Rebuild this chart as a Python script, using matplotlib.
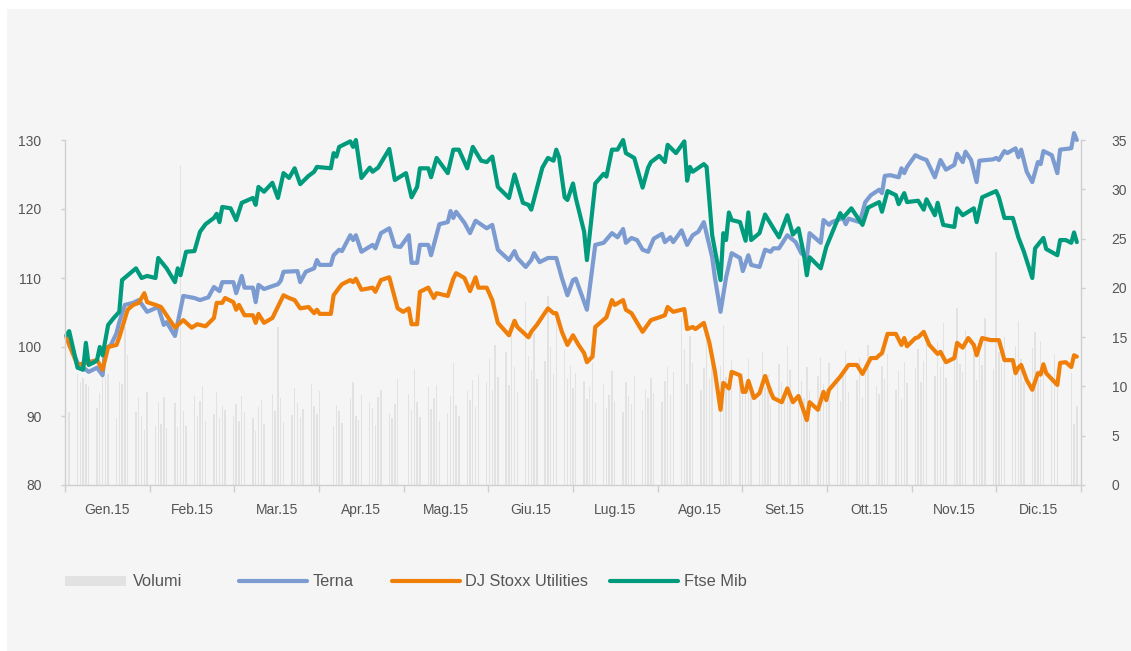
import numpy as np
import pandas as pd
import matplotlib
matplotlib.use("Agg")
import matplotlib.pyplot as plt
from matplotlib.lines import Line2D
from matplotlib.patches import Rectangle

plt.rcParams["font.family"] = ["Liberation Sans", "DejaVu Sans"]

# --- data (x = day of year 2015, 0 = 1 Jan) ---------------------------------
mesi = ["Gen.15", "Feb.15", "Mar.15", "Apr.15", "Mag.15", "Giu.15",
        "Lug.15", "Ago.15", "Set.15", "Ott.15", "Nov.15", "Dic.15"]

terna_days = [0, 4, 8, 11, 13, 14, 16, 18, 19, 21, 24, 26, 29, 33, 35, 36, 39, 42,
              46, 48, 51, 53, 55, 56, 60, 61, 63, 64, 67, 68, 69, 71, 76, 77, 78,
              83, 84, 86, 89, 90, 91, 95, 96, 98, 99, 102, 103, 104, 106, 110, 111,
              113, 116, 118, 120, 123, 124, 126, 127, 130, 131, 134, 137, 138, 139,
              140, 143, 145, 147, 151, 153, 155, 159, 161, 162, 165, 167, 168, 170,
              173, 176, 178, 180, 182, 183, 187, 190, 193, 196, 198, 200, 201, 203,
              205, 207, 209, 211, 214, 215, 217, 218, 221, 223, 225, 227, 229, 232,
              233, 235, 237, 239, 242, 243, 245, 246, 249, 251, 253, 254, 256, 259,
              262, 264, 266, 267, 271, 272, 274, 275, 279, 280, 281, 285, 287, 289,
              292, 293, 294, 296, 299, 300, 301, 302, 305, 307, 309, 312, 314, 316,
              319, 320, 322, 323, 325, 327, 328, 333, 334, 335, 337, 338, 341, 342,
              343, 345, 347, 349, 350, 351, 354, 356, 357, 359, 361, 362, 363]
terna_vals = [101.6, 97.7, 96.4, 97.0, 95.9, 99.7, 100.3, 102.0, 103.6, 106.1, 106.4,
              106.8, 105.1, 105.8, 103.2, 103.6, 101.6, 107.4, 107.1, 106.8, 107.2,
              108.7, 108.1, 109.4, 109.4, 107.8, 110.3, 108.6, 108.6, 106.5, 109.0,
              108.4, 109.1, 109.6, 110.9, 111.0, 109.4, 110.9, 111.4, 112.6, 111.9,
              111.9, 113.3, 114.1, 113.9, 116.2, 115.5, 116.2, 113.8, 114.8, 114.3,
              116.5, 117.2, 114.6, 114.5, 116.2, 112.2, 112.2, 114.8, 114.8, 113.3,
              117.8, 118.1, 119.7, 118.7, 119.6, 118.0, 116.5, 118.3, 117.2, 117.7,
              114.1, 112.6, 113.9, 112.9, 111.6, 112.6, 113.6, 112.3, 112.9, 112.9,
              110.0, 107.5, 109.7, 109.9, 105.4, 114.8, 115.1, 116.5, 115.9, 117.1,
              115.1, 115.8, 115.5, 114.1, 113.8, 115.7, 116.4, 115.2, 115.9, 115.2,
              116.9, 114.8, 116.2, 116.7, 118.1, 113.0, 110.0, 105.1, 110.1, 113.6,
              112.9, 111.0, 113.3, 111.9, 111.6, 114.1, 113.8, 114.3, 114.3, 116.2,
              115.2, 113.6, 112.9, 116.5, 115.1, 118.4, 117.7, 118.1, 118.7, 117.8,
              118.6, 118.1, 121.0, 122.0, 122.8, 122.3, 124.8, 124.9, 124.6, 125.9,
              125.2, 126.1, 127.8, 127.4, 127.1, 124.6, 127.1, 125.7, 126.4, 128.0,
              126.8, 128.3, 127.1, 123.9, 127.0, 127.2, 127.4, 127.1, 128.4, 128.1,
              128.8, 127.5, 128.6, 125.4, 123.9, 126.8, 126.5, 128.4, 127.8, 125.2,
              128.6, 128.7, 128.8, 131.0, 130.0]

stoxx_days = [0, 1, 4, 7, 11, 13, 15, 18, 19, 22, 24, 26, 28, 29, 32, 34, 36, 39, 42,
              45, 47, 50, 53, 54, 56, 57, 60, 61, 62, 64, 67, 68, 69, 71, 74, 78, 80,
              82, 84, 87, 89, 90, 91, 95, 96, 98, 99, 102, 103, 104, 106, 110, 111,
              113, 116, 117, 119, 121, 123, 124, 126, 127, 130, 132, 133, 137, 139,
              140, 143, 145, 147, 148, 151, 153, 155, 159, 161, 162, 166, 167, 169,
              173, 175, 176, 178, 180, 182, 184, 186, 187, 189, 190, 194, 196, 197,
              200, 201, 203, 207, 210, 213, 215, 216, 218, 222, 223, 225, 226, 229,
              231, 233, 235, 236, 238, 239, 242, 243, 244, 245, 247, 249, 251, 253,
              254, 257, 259, 261, 263, 265, 266, 267, 270, 272, 273, 274, 278, 281,
              284, 286, 289, 291, 292, 293, 295, 298, 300, 301, 302, 305, 306, 308,
              310, 313, 314, 316, 319, 320, 322, 324, 326, 327, 329, 332, 334, 335,
              337, 340, 341, 342, 343, 345, 347, 349, 350, 351, 352, 356, 357, 359,
              361, 362, 363]
stoxx_vals = [101.4, 100.3, 97.4, 97.7, 98.1, 96.7, 100.0, 100.3, 101.4, 105.4, 106.1,
              106.4, 107.8, 106.5, 106.1, 105.8, 104.6, 102.8, 103.9, 102.8, 103.3,
              103.0, 104.2, 106.4, 106.4, 107.1, 106.5, 105.4, 106.1, 104.6, 104.6,
              103.5, 104.8, 103.5, 104.2, 107.5, 107.1, 106.8, 105.6, 105.8, 104.9,
              105.4, 104.8, 104.8, 107.5, 108.6, 109.1, 109.7, 109.4, 109.9, 108.3,
              108.6, 108.0, 109.7, 110.1, 108.6, 105.6, 105.1, 105.6, 103.3, 103.3,
              108.0, 108.6, 107.1, 107.8, 107.4, 109.9, 110.7, 110.0, 108.1, 110.1,
              108.6, 108.6, 106.8, 103.5, 101.7, 103.8, 102.9, 101.4, 102.2, 103.2,
              105.6, 104.9, 104.9, 102.2, 100.3, 101.7, 100.3, 99.1, 97.8, 98.6,
              102.9, 104.3, 106.8, 106.1, 106.8, 105.4, 104.9, 102.2, 103.9, 104.3,
              104.6, 105.8, 105.1, 105.5, 102.6, 102.9, 102.6, 103.5, 100.6, 96.4,
              90.9, 94.8, 94.0, 96.4, 95.9, 93.5, 93.5, 95.1, 92.6, 93.3, 95.8, 93.5,
              92.6, 92.0, 94.0, 92.0, 92.9, 90.6, 89.4, 92.0, 90.9, 93.5, 92.3, 93.8,
              95.7, 97.4, 97.4, 96.1, 98.4, 98.4, 98.8, 99.1, 101.9, 101.9, 100.3,
              101.3, 100.1, 101.3, 101.4, 102.2, 100.3, 99.0, 99.3, 97.8, 98.4, 100.6,
              99.9, 101.3, 100.3, 98.8, 101.3, 101.0, 101.0, 101.0, 98.1, 98.1, 96.2,
              97.0, 97.4, 95.2, 93.8, 96.2, 96.0, 97.5, 96.2, 94.5, 97.7, 97.8, 97.1,
              98.8, 98.6]

ftse_days = [0, 1, 4, 6, 7, 8, 10, 11, 12, 13, 15, 17, 19, 20, 25, 27, 29, 32, 33, 36,
             39, 40, 41, 43, 46, 48, 50, 53, 54, 55, 56, 59, 61, 63, 67, 68, 69, 71,
             74, 76, 78, 80, 82, 84, 87, 89, 90, 95, 96, 97, 98, 102, 103, 104, 106,
             109, 110, 112, 116, 118, 122, 124, 126, 127, 130, 131, 133, 137, 139,
             141, 144, 146, 149, 151, 153, 155, 159, 161, 164, 166, 167, 171, 173,
             175, 176, 177, 179, 180, 182, 183, 186, 187, 190, 193, 194, 196, 198,
             200, 201, 204, 207, 209, 210, 213, 215, 216, 219, 222, 223, 224, 225,
             229, 230, 232, 235, 236, 237, 238, 239, 242, 244, 245, 246, 249, 251,
             254, 256, 259, 261, 263, 265, 266, 267, 271, 273, 278, 279, 282, 286,
             288, 292, 293, 295, 298, 299, 301, 302, 306, 308, 309, 312, 313, 315,
             319, 320, 322, 326, 327, 329, 334, 335, 337, 340, 342, 344, 347, 348,
             351, 352, 356, 357, 359, 361, 362, 363]
ftse_vals = [101.7, 102.3, 97.0, 96.7, 100.6, 97.4, 97.8, 98.1, 100.0, 98.8, 103.2,
             104.2, 105.1, 109.7, 111.4, 110.0, 110.3, 110.0, 112.9, 111.4, 109.4,
             111.4, 110.4, 113.8, 113.9, 116.7, 117.8, 118.7, 119.3, 118.1, 120.3,
             120.1, 118.4, 120.9, 121.6, 120.6, 123.2, 122.5, 123.8, 121.6, 125.2,
             124.5, 125.9, 123.6, 124.8, 125.4, 126.1, 125.9, 128.1, 127.6, 129.0,
             129.8, 129.0, 130.0, 124.5, 126.0, 125.4, 126.0, 128.7, 124.2, 125.2,
             121.7, 123.2, 125.9, 125.9, 124.6, 127.4, 125.2, 128.6, 128.6, 125.9,
             129.0, 127.0, 126.8, 127.6, 123.2, 121.6, 125.0, 120.9, 120.6, 119.9,
             126.0, 127.4, 127.0, 128.6, 127.5, 121.7, 121.3, 123.7, 121.6, 116.7,
             112.6, 123.7, 125.1, 124.7, 128.6, 128.6, 130.0, 128.1, 127.4, 123.1,
             126.0, 126.8, 127.7, 126.8, 129.3, 128.1, 129.8, 124.1, 126.1, 125.4,
             126.5, 126.1, 116.2, 109.7, 116.5, 115.5, 119.5, 118.4, 118.1, 115.4,
             119.5, 115.5, 116.5, 119.2, 117.2, 115.9, 119.1, 116.3, 117.2, 113.3,
             110.4, 113.0, 111.4, 114.5, 119.4, 118.7, 120.1, 117.7, 120.2, 121.0,
             119.6, 122.6, 122.0, 120.7, 122.3, 121.0, 121.2, 119.9, 121.4, 119.1,
             120.9, 117.7, 117.4, 120.1, 119.1, 120.1, 118.1, 121.7, 122.6, 121.7,
             118.7, 118.7, 115.9, 113.8, 110.0, 114.3, 115.8, 114.2, 113.3, 115.5,
             115.5, 115.1, 116.6, 115.2]

# daily volumes (millions), one per trading session, month by month
volumi = [
    7.4, 11.3, 10.5, 10.9, 10.2, 10.0, 7.8, 9.3, 10.9, 11.0, 11.3, 6.8, 10.5, 10.2,
    16.0, 13.2, 7.4, 8.9, 7.0, 5.6, 9.4,
    6.0, 8.4, 6.2, 8.9, 5.8, 8.3, 5.9, 32.5, 7.5, 6.0, 9.0, 7.0, 8.5, 10.0, 6.5, 7.2,
    9.4, 6.8, 8.0, 7.6,
    7.0, 8.2, 6.5, 9.0, 7.4, 6.8, 5.5, 7.9, 8.6, 6.2, 9.2, 7.5, 16.0, 8.8, 6.4, 7.1,
    9.8, 8.3, 6.9, 7.7, 10.2, 8.0,
    7.2, 9.5, 6.0, 8.1, 7.5, 6.3, 8.8, 10.5, 7.0, 6.6, 9.1, 8.4, 7.8, 6.1, 8.9, 9.6,
    7.3, 6.8, 8.2, 10.8,
    9.2, 7.6, 11.8, 8.4, 6.9, 9.9, 7.7, 8.8, 10.1, 6.5, 7.3, 9.0, 12.4, 8.1, 7.0, 9.5,
    8.6, 10.7, 7.9, 11.2,
    10.5, 12.8, 9.6, 14.2, 11.0, 13.5, 10.1, 16.3, 12.0, 9.4, 18.6, 13.1, 11.7, 15.4,
    10.8, 12.6, 19.2, 14.0, 11.3, 16.8, 13.7, 10.9,
    12.2, 9.8, 11.4, 10.6, 8.7, 9.9, 12.5, 8.3, 10.2, 7.8, 9.1, 11.6, 8.5, 7.4, 10.4,
    9.0, 8.2, 11.1, 7.6, 9.7, 8.8, 10.9, 9.3,
    8.4, 10.6, 12.0, 9.1, 11.5, 17.0, 13.8, 10.2, 15.1, 12.4, 9.6, 11.9, 14.6, 10.8,
    13.2, 12.1, 16.2, 11.0, 9.8, 12.7, 10.5,
    11.4, 9.2, 12.8, 10.1, 8.6, 13.5, 9.9, 11.2, 8.1, 12.3, 10.4, 9.0, 14.1, 11.7,
    23.0, 10.6, 8.8, 12.0, 9.5, 11.1, 13.0, 10.2,
    9.7, 12.4, 10.9, 8.5, 11.8, 13.6, 9.4, 10.7, 12.9, 8.9, 11.3, 14.2, 10.0, 9.2,
    12.1, 10.8, 13.3, 9.6, 11.6, 8.7, 12.5, 10.3,
    11.9, 13.8, 10.4, 12.6, 15.2, 11.1, 14.5, 12.0, 16.4, 10.9, 13.1, 18.0, 12.3,
    11.5, 15.7, 13.4, 10.7, 14.8, 12.2, 16.9, 11.8,
    23.6, 13.5, 12.4, 15.0, 11.2, 14.1, 16.6, 12.8, 10.5, 13.9, 15.5, 11.7, 14.6,
    12.1, 10.8, 13.3, 9.9, 11.4, 6.2, 8.0,
]
festivi = ["2015-01-01", "2015-04-03", "2015-04-06", "2015-05-01",
           "2015-12-24", "2015-12-25", "2015-12-31"]

# --- figure -----------------------------------------------------------------
W, H = 1131, 651
fig = plt.figure(figsize=(W / 100, H / 100), dpi=100)
fig.patch.set_facecolor("white")
fig.add_artist(Rectangle((7 / W, 0), 1, 1 - 9 / H, transform=fig.transFigure,
                         facecolor="#f5f5f5", edgecolor="none", zorder=0))

GRID = "#cfcfcf"
TXT = "#555555"
C_TERNA = "#7b9bd1"
C_STOXX = "#f07f09"
C_FTSE = "#009b7d"

ax_vol = fig.add_axes([65 / W, 1 - 485 / H, 1016 / W, 345 / H])
ax_vol.set_facecolor("none")
ax = ax_vol.twinx()

sessioni = pd.bdate_range("2015-01-01", "2015-12-31")
sessioni = sessioni[~sessioni.isin(pd.to_datetime(festivi))]
vol_x = np.array(sessioni.dayofyear - 1) + 0.5
n = min(len(vol_x), len(volumi))
ax_vol.bar(vol_x[:n], volumi[:n], width=0.5, color="#e2e2e2", linewidth=0)

lw = 3.0
for xs, ys, col in ((terna_days, terna_vals, C_TERNA),
                    (stoxx_days, stoxx_vals, C_STOXX),
                    (ftse_days, ftse_vals, C_FTSE)):
    ax.plot(np.array(xs) + 0.5, ys, color=col, lw=lw, clip_on=False,
            solid_joinstyle="round", solid_capstyle="round")

for a in (ax, ax_vol):
    a.set_xlim(0, 365)
    for s in a.spines.values():
        s.set_visible(False)

ax.set_ylim(80, 130)
ax_vol.set_ylim(0, 35)

ax.yaxis.tick_left()
ax.yaxis.set_label_position("left")
ax_vol.yaxis.tick_right()
ax.set_yticks(np.arange(80, 131, 10))
ax_vol.set_yticks(np.arange(0, 36, 5))

for s in ("left", "right", "bottom"):
    ax.spines[s].set_visible(True)
    ax.spines[s].set_color(GRID)
    ax.spines[s].set_linewidth(1.0)

ax.tick_params(axis="y", colors=GRID, labelcolor=TXT, labelsize=10,
               length=3, width=1, pad=14)
ax_vol.tick_params(axis="y", colors=GRID, labelcolor=TXT, labelsize=10,
                   length=3, width=1, pad=19)

# month axis: ticks at the borders, labels in the middle
passo = 365 / 12
ax_vol.set_xticks([i * passo for i in range(13)])
ax_vol.set_xticklabels([])
ax_vol.set_xticks([(i + 0.5) * passo for i in range(12)], minor=True)
ax_vol.set_xticklabels(mesi, minor=True)
ax_vol.tick_params(axis="x", which="major", colors=GRID, length=5, width=1)
ax_vol.tick_params(axis="x", which="minor", length=0, labelcolor=TXT,
                   labelsize=10, pad=13)
ax.tick_params(axis="x", which="both", length=0, labelbottom=False)

# --- legend -----------------------------------------------------------------
ly = 1 - 581 / H
fig.add_artist(Rectangle((65 / W, 1 - 586 / H), 61 / W, 10 / H,
                         transform=fig.transFigure, facecolor="#e2e2e2",
                         edgecolor="none"))
fig.text(133 / W, ly, "Volumi", color=TXT, fontsize=11.8, va="center")
voci = [(239, 313, C_TERNA, "Terna"),
        (392, 465, C_STOXX, "DJ Stoxx Utilities"),
        (610, 684, C_FTSE, "Ftse Mib")]
for x0, xt, col, lab in voci:
    fig.add_artist(Line2D([x0 / W, (x0 + 68) / W], [ly, ly], color=col, lw=3,
                          solid_capstyle="round", transform=fig.transFigure))
    fig.text(xt / W, ly, lab, color=TXT, fontsize=11.8, va="center")

fig.savefig("out.png", dpi=100, facecolor=fig.get_facecolor())
